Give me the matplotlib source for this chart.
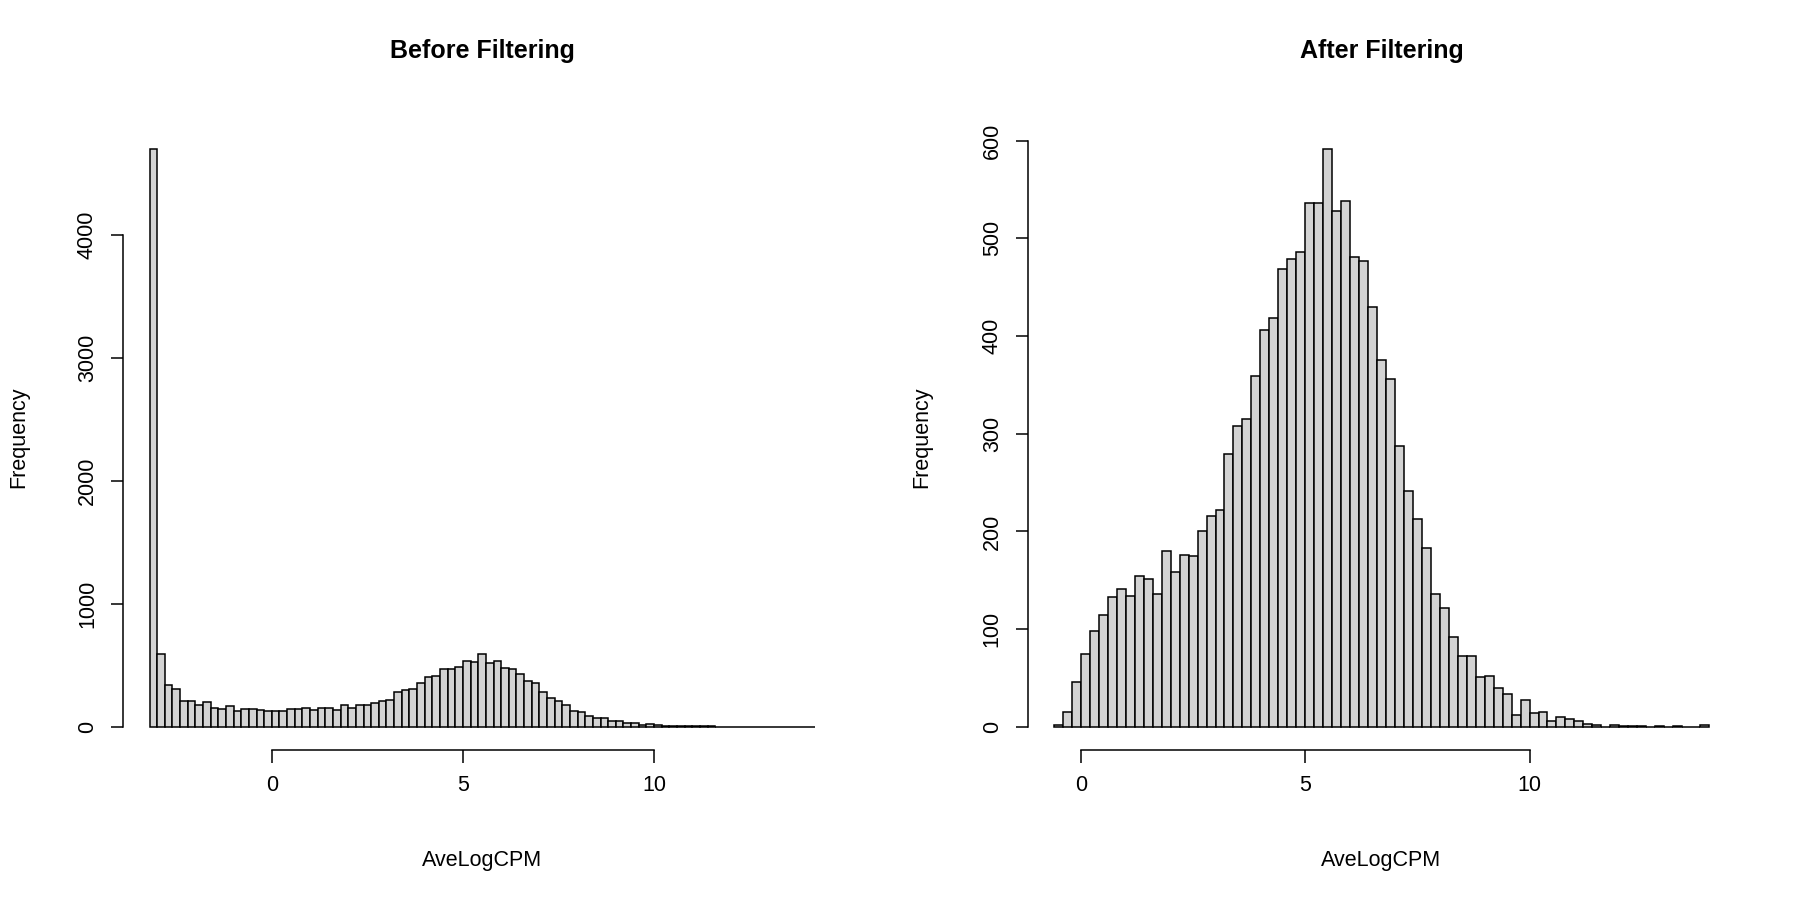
import matplotlib
matplotlib.use("Agg")
import matplotlib.pyplot as plt
import numpy as np

plt.rcParams['font.family'] = ['Liberation Sans', 'DejaVu Sans']

# histogram breaks (width 0.2) and counts
before_start = -3.2
before_counts = [4700, 595, 338, 311, 211, 214, 181, 205, 151, 149, 168, 127, 143, 141,
                 135, 132, 132, 130, 141, 143, 151, 138, 157, 151, 135, 181, 151, 176,
                 176, 197, 214, 216, 281, 303, 311, 354, 408, 416, 468, 470, 484, 532,
                 527, 589, 522, 532, 478, 470, 427, 373, 354, 284, 232, 208, 181, 132,
                 119, 86, 68, 68, 49, 46, 35, 32, 14, 24, 16, 8, 5, 8, 5,
                 4, 3, 3, 2, 2, 1, 2, 1, 1, 1, 1, 1, 1, 1, 0, 1]

after_start = -0.6
after_counts = [2, 15, 46, 75, 98, 114, 133, 141, 134, 154, 151, 136, 180, 158, 176,
                175, 200, 216, 222, 279, 308, 315, 359, 406, 419, 469, 479, 486, 536,
                536, 592, 528, 538, 481, 477, 430, 375, 356, 287, 241, 213, 183, 136,
                122, 92, 73, 73, 51, 52, 40, 34, 12, 27, 14, 15, 6, 10, 8, 6, 3, 2, 0,
                2, 1, 1, 1, 0, 1, 0, 1, 0, 0, 2]

bin_width = 0.2


def r_hist(ax, start, counts, title, ymax_tick, yticks):
    edges = start + bin_width * np.arange(len(counts) + 1)
    ax.bar(edges[:-1], counts, width=bin_width, align='edge',
           color='#D3D3D3', edgecolor='black', linewidth=1.1)
    lo, hi = edges[0], edges[-1]
    pad = 0.04 * (hi - lo)
    ax.set_xlim(lo - pad, hi + pad)
    top = max(counts)
    ax.set_ylim(-0.04 * top, 1.04 * top)
    for s in ['top', 'right']:
        ax.spines[s].set_visible(False)
    ax.spines['left'].set_bounds(0, ymax_tick)
    ax.spines['bottom'].set_bounds(0, 10)
    ax.spines['left'].set_linewidth(1.1)
    ax.spines['bottom'].set_linewidth(1.1)
    ax.set_xticks([0, 5, 10])
    ax.set_yticks(yticks)
    ax.tick_params(labelsize=15.5, length=9, width=1.1, pad=9)
    for lab in ax.get_yticklabels():
        lab.set_rotation(90)
        lab.set_va('center')
    ax.set_title(title, fontsize=18, fontweight='bold', y=1.095)
    ax.set_xlabel('AveLogCPM', fontsize=15.5)
    ax.set_ylabel('Frequency', fontsize=15.5)


fig = plt.figure(figsize=(18, 9), dpi=100)
ax1 = fig.add_axes([0.0683, 0.1667, 0.399, 0.694])
ax2 = fig.add_axes([0.571, 0.1667, 0.393, 0.694])

r_hist(ax1, before_start, before_counts, 'Before Filtering', 4000, [0, 1000, 2000, 3000, 4000])
r_hist(ax2, after_start, after_counts, 'After Filtering', 600, [0, 100, 200, 300, 400, 500, 600])

ax1.xaxis.set_label_coords(0.5, -0.16)
ax2.xaxis.set_label_coords(0.5, -0.16)
ax1.yaxis.set_label_coords(-0.13, 0.5)
ax2.yaxis.set_label_coords(-0.135, 0.5)

fig.savefig('out.png', dpi=100)
